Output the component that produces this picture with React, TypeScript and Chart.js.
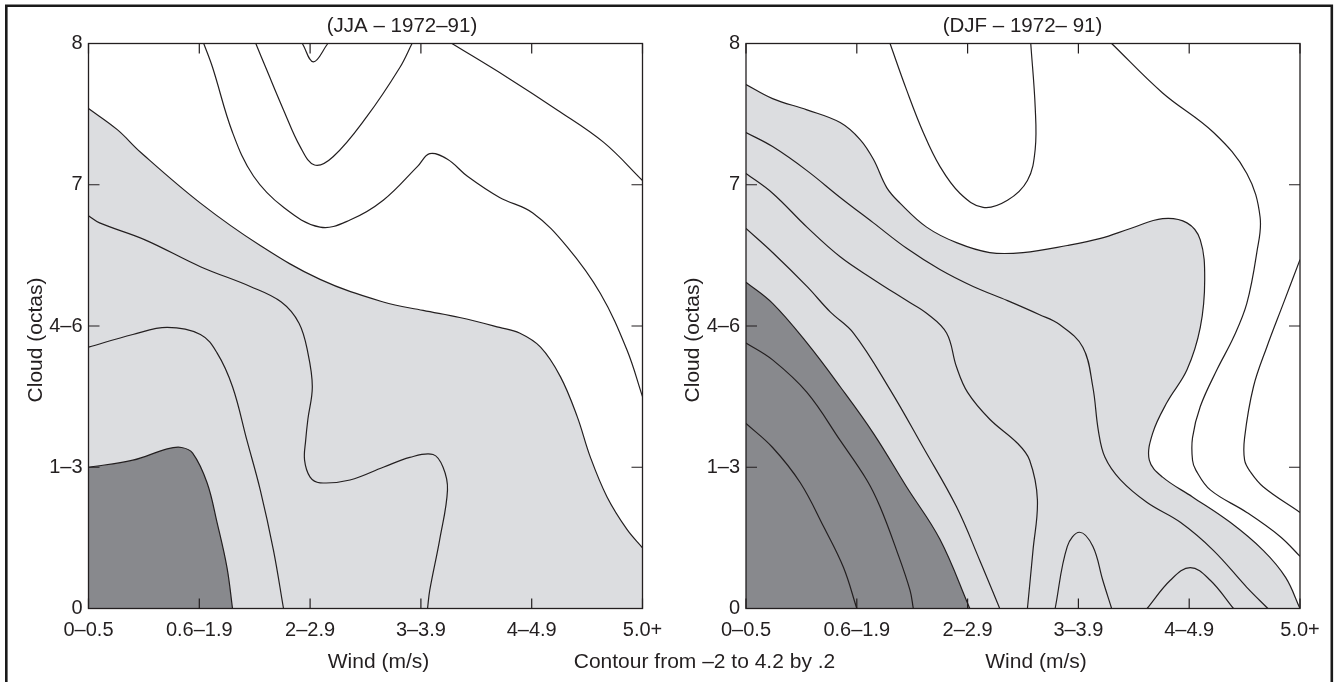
import React, { useEffect, useRef } from "react";
import { Chart, registerables } from "chart.js";

Chart.register(...registerables);

// ---------- tick labels ----------
const xTickLabels = ["0–0.5", "0.6–1.9", "2–2.9", "3–3.9", "4–4.9", "5.0+"];
const yTickLabels = ["0", "1–3", "4–6", "7", "8"];

type Pt = [number, number];

// ---------- JJA (left panel) contours: [wind index, cloud index] ----------
const jjaLightEdge: Pt[] = [[0,3.54],[0.26,3.39],[0.47,3.23],[1.01,2.87],[1.55,2.57],[2.09,2.33],[2.66,2.17],[3.02,2.11],[3.35,2.06],[3.71,1.99],[3.89,1.95],[4.08,1.85],[4.26,1.64],[4.41,1.36],[4.53,1.07],[4.68,0.79],[4.86,0.56],[5,0.43]];
const jjaDarkEdge: Pt[] = [[0,1.0],[0.4,1.05],[0.71,1.13],[0.84,1.14],[0.94,1.1],[1.07,0.89],[1.16,0.61],[1.25,0.29],[1.3,0]];
const jjaLineA: Pt[] = [[0,2.78],[0.1,2.73],[0.51,2.61],[1.01,2.42],[1.46,2.28],[1.74,2.17],[1.9,2.02],[1.98,1.81],[2.02,1.57],[1.98,1.34],[1.96,1.19],[1.95,1.05],[2.0,0.93],[2.09,0.89],[2.36,0.91],[2.66,1.0],[2.9,1.07],[3.11,1.09],[3.2,1.0],[3.24,0.84],[3.17,0.49],[3.08,0.13],[3.06,0]];
const jjaLineB: Pt[] = [[0,1.85],[0.4,1.94],[0.71,1.99],[1.01,1.94],[1.16,1.81],[1.3,1.57],[1.43,1.19],[1.55,0.84],[1.67,0.41],[1.76,0]];
const jjaLineC: Pt[] = [[1.04,4],[1.12,3.83],[1.3,3.37],[1.49,3.06],[1.76,2.84],[2.09,2.7],[2.36,2.75],[2.66,2.89],[2.97,3.13],[3.08,3.22],[3.24,3.18],[3.42,3.06],[3.71,2.91],[4.01,2.8],[4.32,2.56],[4.62,2.23],[4.86,1.83],[5,1.5]];
const jjaLineD: Pt[] = [[1.51,4],[1.61,3.81],[1.76,3.53],[1.91,3.27],[2.04,3.14],[2.21,3.2],[2.51,3.48],[2.81,3.83],[2.92,4]];
const jjaLineE: Pt[] = [[1.93,4],[2.03,3.87],[2.16,4]];
const jjaLineF: Pt[] = [[3.28,4],[3.78,3.76],[4.23,3.53],[4.65,3.3],[5,3.03]];

// ---------- DJF (right panel) contours ----------
const djfLightEdge: Pt[] = [[0,3.71],[0.24,3.61],[0.55,3.53],[0.85,3.44],[1.03,3.32],[1.15,3.18],[1.27,2.98],[1.39,2.87],[1.63,2.7],[1.9,2.59],[2.2,2.52],[2.5,2.52],[2.9,2.57],[3.2,2.62],[3.47,2.69],[3.76,2.76],[3.98,2.73],[4.1,2.61],[4.14,2.33],[4.1,1.99],[3.98,1.69],[3.8,1.46],[3.67,1.24],[3.64,1.05],[3.76,0.93],[4.03,0.79],[4.37,0.61],[4.67,0.41],[4.87,0.22],[5,0]];
const djfDarkEdge: Pt[] = [[0,2.31],[0.24,2.16],[0.55,1.88],[0.85,1.57],[1.15,1.24],[1.45,0.86],[1.75,0.49],[2.02,0]];
const djfLineA: Pt[] = [[0,3.37],[0.24,3.27],[0.55,3.1],[0.85,2.91],[1.15,2.73],[1.45,2.55],[1.75,2.4],[2.05,2.28],[2.36,2.18],[2.65,2.08],[2.83,2.01],[3.04,1.85],[3.13,1.57],[3.18,1.26],[3.24,1.07],[3.38,0.91],[3.62,0.75],[3.92,0.61],[4.22,0.41],[4.52,0.15],[4.71,0]];
const djfLineB: Pt[] = [[0,3.08],[0.24,2.94],[0.55,2.7],[0.85,2.49],[1.15,2.33],[1.45,2.18],[1.63,2.09],[1.81,1.95],[1.9,1.71],[2.0,1.53],[2.2,1.34],[2.45,1.17],[2.56,1.05],[2.63,0.77],[2.59,0.41],[2.54,0]];
const djfLineC: Pt[] = [[0,2.69],[0.24,2.52],[0.55,2.28],[0.76,2.1],[0.97,1.95],[1.3,1.55],[1.6,1.14],[1.9,0.72],[2.11,0.34],[2.29,0]];
const djfLineD: Pt[] = [[1.3,4],[1.45,3.67],[1.6,3.37],[1.75,3.13],[1.93,2.94],[2.14,2.84],[2.36,2.89],[2.54,3.03],[2.61,3.25],[2.61,3.55],[2.57,4]];
const djfLineE: Pt[] = [[3.3,4],[3.76,3.65],[4.22,3.37],[4.52,3.08],[4.64,2.77],[4.61,2.52],[4.52,2.16],[4.4,1.92],[4.25,1.69],[4.1,1.43],[4.03,1.21],[4.03,1.05],[4.06,0.98],[4.19,0.84],[4.52,0.68],[4.82,0.51],[5,0.37]];
const djfLineF: Pt[] = [[5,2.47],[4.85,2.16],[4.7,1.85],[4.58,1.57],[4.5,1.21],[4.5,1.05],[4.55,0.97],[4.67,0.86],[5,0.68]];
const djfLineG: Pt[] = [[0,1.88],[0.24,1.76],[0.55,1.53],[0.85,1.19],[1.09,0.91],[1.21,0.72],[1.36,0.41],[1.48,0.13],[1.51,0]];
const djfLineH: Pt[] = [[0,1.31],[0.24,1.14],[0.49,0.89],[0.7,0.58],[0.88,0.29],[1.0,0]];
const djfLineI: Pt[] = [[2.79,0],[2.9,0.44],[3.01,0.54],[3.13,0.44],[3.22,0.2],[3.3,0]];
const djfLineJ: Pt[] = [[3.62,0],[3.83,0.2],[4.01,0.29],[4.19,0.2],[4.4,0]];

// ---------- styling ----------
const W = 1337;
const H = 682;
const FONT = "'Liberation Sans', Arial, Helvetica, sans-serif";
const INK = "#231f20";
const LIGHT = "#dcdde0";
const DARK = "#88898d";

const toXY = (pts: Pt[]) => pts.map(([x, y]) => ({ x, y }));

function lineDs(pts: Pt[], order = 1): any {
  return {
    data: toXY(pts),
    borderColor: INK,
    borderWidth: 1.2,
    pointRadius: 0,
    fill: false,
    tension: 0.38,
    order,
  };
}
function fillDs(pts: Pt[], color: string, order: number): any {
  return { ...lineDs(pts, order), backgroundColor: color, fill: "origin" };
}

interface Panel {
  title: string;
  titleDx: number;
  padLeft: number;
  padRight: number;
  light: Pt[];
  dark: Pt[];
  lines: Pt[][];
  decorate: boolean;
}

const panels: Panel[] = [
  {
    title: "(JJA – 1972–91)",
    titleDx: 313.5,
    padLeft: 0.5,
    padRight: W - 642.5,
    light: jjaLightEdge,
    dark: jjaDarkEdge,
    lines: [jjaLineA, jjaLineB, jjaLineC, jjaLineD, jjaLineE, jjaLineF],
    decorate: true,
  },
  {
    title: "(DJF – 1972– 91)",
    titleDx: 276.5,
    padLeft: 746 - 88,
    padRight: W - 1300,
    light: djfLightEdge,
    dark: djfDarkEdge,
    lines: [djfLineA, djfLineB, djfLineC, djfLineD, djfLineE, djfLineF, djfLineG, djfLineH, djfLineI, djfLineJ],
    decorate: false,
  },
];

function makePlugin(p: Panel): any {
  return {
    id: "panelDecor",
    afterDatasetsDraw(chart: any) {
      const { ctx, chartArea: a, scales } = chart;
      const xs = scales.x;
      const ys = scales.y;
      ctx.save();
      // plot frame
      ctx.strokeStyle = INK;
      ctx.lineWidth = 1.3;
      ctx.strokeRect(a.left, a.top, a.right - a.left, a.bottom - a.top);
      // inward ticks on all four sides
      ctx.beginPath();
      ctx.lineWidth = 1.2;
      xs.ticks.forEach((t: any) => {
        const px = xs.getPixelForValue(t.value);
        ctx.moveTo(px, a.bottom);
        ctx.lineTo(px, a.bottom - 10);
        ctx.moveTo(px, a.top);
        ctx.lineTo(px, a.top + 10);
      });
      ys.ticks.forEach((t: any) => {
        const py = ys.getPixelForValue(t.value);
        ctx.moveTo(a.left, py);
        ctx.lineTo(a.left + 11, py);
        ctx.moveTo(a.right, py);
        ctx.lineTo(a.right - 11, py);
      });
      ctx.stroke();

      // texts
      ctx.fillStyle = INK;
      ctx.textBaseline = "alphabetic";
      ctx.textAlign = "center";
      ctx.font = `20.5px ${FONT}`;
      ctx.fillText(p.title, a.left + p.titleDx, 31.5);
      ctx.font = `21px ${FONT}`;
      ctx.fillText("Wind (m/s)", a.left + 290, 668);
      ctx.save();
      ctx.translate(a.left - 47, 340);
      ctx.rotate(-Math.PI / 2);
      ctx.fillText("Cloud (octas)", 0, 0);
      ctx.restore();

      if (p.decorate) {
        ctx.fillText("Contour from –2 to 4.2 by .2", 704.5, 668);
        // outer frame (open at the bottom)
        ctx.strokeStyle = "#1a1a1a";
        ctx.lineWidth = 2.6;
        ctx.beginPath();
        ctx.moveTo(6.3, H + 2);
        ctx.lineTo(6.3, 5.8);
        ctx.lineTo(1331.8, 5.8);
        ctx.lineTo(1331.8, H + 2);
        ctx.stroke();
      }
      ctx.restore();
    },
  };
}

function buildConfig(p: Panel): any {
  const datasets = [
    fillDs(p.light, LIGHT, 10),
    fillDs(p.dark, DARK, 9),
    ...p.lines.map((l) => lineDs(l, 1)),
  ];
  return {
    type: "line",
    data: { datasets },
    options: {
      animation: false,
      responsive: false,
      events: [],
      layout: { padding: { left: p.padLeft, right: p.padRight, top: 43.5, bottom: H - 608.5 - 50 } },
      plugins: { legend: { display: false }, tooltip: { enabled: false }, title: { display: false } },
      scales: {
        x: {
          type: "linear",
          min: 0,
          max: 5,
          afterFit: (s: any) => {
            s.height = 50;
          },
          grid: { display: false, drawTicks: false },
          border: { display: false },
          ticks: {
            stepSize: 1,
            autoSkip: false,
            maxRotation: 0,
            padding: 10,
            color: INK,
            font: { family: FONT, size: 20 },
            callback: (v: any) => xTickLabels[Math.round(Number(v))] ?? "",
          },
        },
        y: {
          type: "linear",
          min: 0,
          max: 4,
          afterFit: (s: any) => {
            s.width = 88;
          },
          grid: { display: false, drawTicks: false },
          border: { display: false },
          ticks: {
            stepSize: 1,
            autoSkip: false,
            padding: 6,
            color: INK,
            font: { family: FONT, size: 20 },
            callback: (v: any) => yTickLabels[Math.round(Number(v))] ?? "",
          },
        },
      },
    },
    plugins: [makePlugin(p)],
  };
}

export default function App() {
  const leftRef = useRef<HTMLCanvasElement>(null);
  const rightRef = useRef<HTMLCanvasElement>(null);

  useEffect(() => {
    const c1 = new Chart(leftRef.current as HTMLCanvasElement, buildConfig(panels[0]));
    const c2 = new Chart(rightRef.current as HTMLCanvasElement, buildConfig(panels[1]));
    return () => {
      c1.destroy();
      c2.destroy();
    };
  }, []);

  const canvasStyle: React.CSSProperties = { position: "absolute", left: 0, top: 0, width: W, height: H };
  return (
    <div style={{ position: "absolute", left: 0, top: 0, width: W, height: H, background: "#fff", overflow: "hidden" }}>
      <canvas ref={leftRef} width={W} height={H} style={canvasStyle} />
      <canvas ref={rightRef} width={W} height={H} style={canvasStyle} />
    </div>
  );
}
